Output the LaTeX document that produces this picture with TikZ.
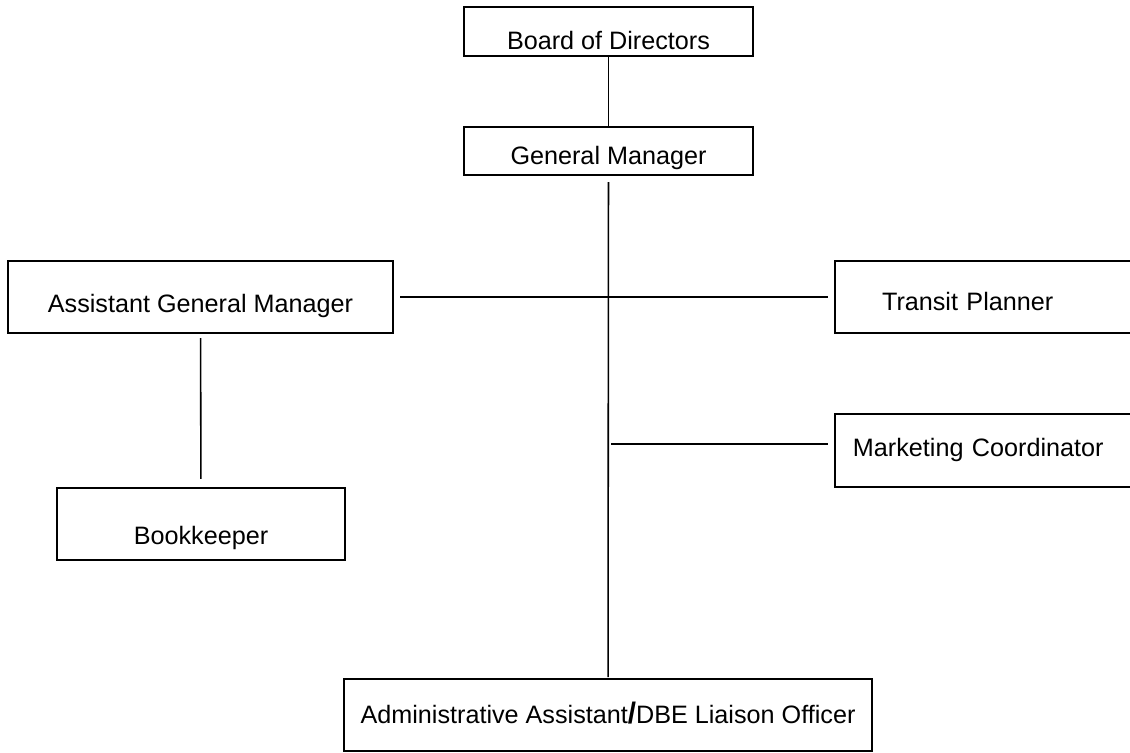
\documentclass[tikz,border=0pt]{standalone}
\usepackage{fontspec}
\setmainfont{Liberation Sans}

\begin{document}
\begin{tikzpicture}[x=0.54pt, y=-0.54pt, line width=0.85pt, post/.style={draw, rectangle, line width=1.1pt, inner sep=0pt, outer sep=0pt, font=\fontsize{13.6}{15}\selectfont}, txtdrop/.style={text height=#1, text depth=0pt}]%y axis points down
\useasboundingbox (0,0) rectangle (1130,752);
\begin{scope}
\node[post, minimum width=156.1pt, minimum height=26.5pt, txtdrop=19.5pt] (bod) at (608.5,31.5) {Board of Directors};
\node[post, minimum width=156.1pt, minimum height=25.9pt, txtdrop=15.1pt] (gm) at (608.5,151) {General Manager};
\node[post, minimum width=207.9pt, minimum height=38.9pt, txtdrop=16.2pt] (agm) at (200.5,297) {Assistant General Manager};
\node[post, anchor=west, minimum height=38.9pt, inner xsep=25.4pt, text width=119.3pt, align=left, txtdrop=15.1pt] (tp) at (835,297) {Transit Planner};
\node[post, anchor=west, minimum height=39.4pt, inner xsep=9.7pt, text width=150.6pt, align=left, txtdrop=7pt] (mc) at (835,450.5) {Marketing Coordinator};
\node[post, minimum width=155.5pt, minimum height=38.9pt, txtdrop=21.6pt] (bk) at (201,524) {Bookkeeper};
\node[post, minimum width=285.1pt, minimum height=38.9pt, txtdrop=9.7pt] (adm) at (608,715) {Administrative Assistant{\fontsize{16}{16}\selectfont\bfseries /}DBE Liaison Officer};
\coordinate (mj) at (611,444);
\end{scope}
\begin{scope}
\draw (bod) -- (gm);
\draw[shorten <=3.8pt, shorten >=1pt] (gm) -- (adm);
\draw[shorten <=3.8pt, shorten >=3.8pt] (agm) -- (tp);
\draw[shorten <=2.7pt, shorten >=4.9pt] (agm) -- (bk);
\draw[shorten >=3.8pt] (mj) -- (mj -| mc.west);
\end{scope}
\end{tikzpicture}
\end{document}
